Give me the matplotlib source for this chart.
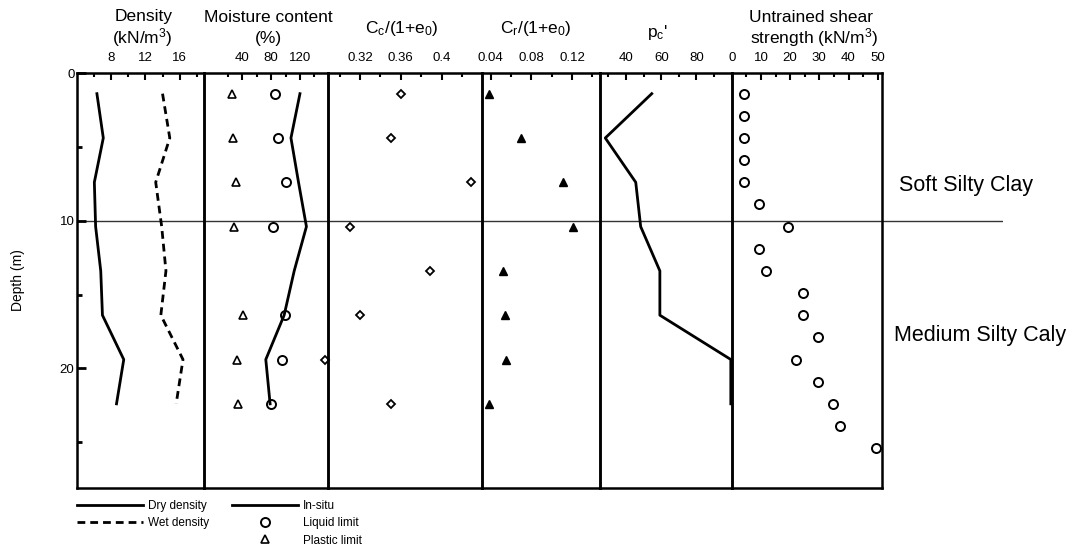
import matplotlib
matplotlib.use('Agg')
import matplotlib.pyplot as plt
import numpy as np
from matplotlib.lines import Line2D

plt.rcParams['font.family'] = ['Liberation Sans', 'DejaVu Sans']
plt.rcParams['mathtext.default'] = 'regular'

# Depths (m) of the sampled layers
depths = [1.4, 4.4, 7.4, 10.4, 13.4, 16.4, 19.4, 22.4]
limit_depths = [1.4, 4.4, 7.4, 10.4, 16.4, 19.4, 22.4]

dry_density = [6.3, 7.05, 6.0, 6.15, 6.75, 6.95, 9.45, 8.6]
wet_density = [14.0, 14.85, 13.2, 13.9, 14.4, 13.8, 16.4, 15.6]

insitu_moisture = [120, 107.5, 118, 129, 112, 98, 72.5, 78.5]
liquid_limit = [86, 89, 100.5, 82, 99.5, 94.5, 80]
plastic_limit = [26, 27.5, 31, 28.5, 41.5, 33, 34.5]

cc_ratio = [0.36, 0.35, 0.429, 0.31, 0.389, 0.32, 0.286, 0.35]
cr_ratio = [0.0386, 0.070, 0.111, 0.121, 0.0525, 0.054, 0.0555, 0.0383]
pc_values = [54.6, 28.2, 45.5, 48.3, 59.2, 59.2, 99.5, 99.5]

su_depths = [1.4, 2.9, 4.4, 5.9, 7.4, 8.9, 10.4, 11.9, 13.4, 14.9, 16.4,
             17.9, 19.4, 20.9, 22.4, 23.9, 25.4]
su_values = [4.1, 4.1, 4.1, 4.1, 4.1, 9.3, 19.3, 9.3, 11.8, 24.5, 24.5,
             29.5, 22.0, 29.5, 34.6, 37.1, 49.5]

layer_boundary = 10

W, H = 1076, 552


def fx(px):
    return px / W


def fy(py):
    return 1 - py / H


fig = plt.figure(figsize=(W / 100, H / 100), dpi=100)

edges = [77.3, 204.3, 328, 482, 600, 731.7, 881.5]
top, bottom = 73, 488
ymax = 28.1

# thin line for the layer boundary, reaching past the panels
bg = fig.add_axes([fx(edges[0]), fy(bottom), fx(1003 - edges[0]), (bottom - top) / H])
bg.set_ylim(ymax, 0)
bg.axis('off')
bg.axhline(layer_boundary, color='#333333', lw=1.0)

panels = [
    ((4, 18.9), [8, 12, 16], [6, 10, 14, 18], ['8', '12', '16']),
    ((-13, 159), [40, 80, 120], [20, 60, 100, 140], ['40', '80', '120']),
    ((0.2887, 0.4395), [0.32, 0.36, 0.40], [0.30, 0.34, 0.38, 0.42], ['0.32', '0.36', '0.4']),
    ((0.0314, 0.1475), [0.04, 0.08, 0.12], [0.06, 0.10, 0.14], ['0.04', '0.08', '0.12']),
    ((25.2, 100), [40, 60, 80], [30, 50, 70, 90], ['40', '60', '80']),
    ((0, 51.3), [0, 10, 20, 30, 40, 50], [5, 15, 25, 35, 45], ['0', '10', '20', '30', '40', '50']),
]

axes = []
for i, (xl, major, minor, labels) in enumerate(panels):
    ax = fig.add_axes([fx(edges[i]), fy(bottom), fx(edges[i + 1] - edges[i]), (bottom - top) / H])
    ax.set_facecolor('none')
    ax.set_xlim(*xl)
    ax.set_ylim(ymax, 0)
    ax.xaxis.tick_top()
    ax.set_xticks(major)
    ax.set_xticklabels(labels)
    ax.set_xticks(minor, minor=True)
    ax.tick_params(axis='x', which='major', direction='in', length=5, width=1.5, pad=6.5, labelsize=9.5)
    ax.tick_params(axis='x', which='minor', direction='in', length=3, width=1.5)
    for s in ax.spines.values():
        s.set_linewidth(1.8)
    if i == 0:
        ax.set_yticks([0, 10, 20])
        ax.set_yticks([5, 15, 25], minor=True)
        ax.tick_params(axis='y', which='major', direction='in', length=6.5, width=2, pad=2, labelsize=9.5)
        ax.tick_params(axis='y', which='minor', direction='in', length=3.5, width=2)
    else:
        ax.tick_params(axis='y', which='both', left=False, labelleft=False)
    axes.append(ax)

ax_den, ax_mc, ax_cc, ax_cr, ax_pc, ax_su = axes

dry_line, = ax_den.plot(dry_density, depths, color='black', lw=2.0)
wet_line, = ax_den.plot(wet_density, depths, color='black', lw=2.0, ls=(0, (2.8, 1.8)))

insitu_line, = ax_mc.plot(insitu_moisture, depths, color='black', lw=2.0)
ll_mark, = ax_mc.plot(liquid_limit, limit_depths, 'o', ms=6.5, mfc='none', mec='black', mew=1.4, ls='none')
pl_mark, = ax_mc.plot(plastic_limit, limit_depths, '^', ms=6, mfc='none', mec='black', mew=1.2, ls='none')

ax_cc.plot(cc_ratio, depths, 'D', ms=4.2, mfc='none', mec='black', mew=1.3, ls='none', clip_on=False)
ax_cr.plot(cr_ratio, depths, '^', ms=6, color='black', ls='none', clip_on=False)
ax_pc.plot(pc_values, depths, color='black', lw=2.0)
ax_su.plot(su_values, su_depths, 'o', ms=6.5, mfc='none', mec='black', mew=1.4, ls='none', clip_on=False)

# column headings
title_kw = dict(ha='center', va='center', fontsize=12.5)
fig.text(fx(143.5), fy(17), 'Density', **title_kw)
fig.text(fx(142), fy(38), '(kN/m$^3$)', **title_kw)
fig.text(fx(268), fy(17), 'Moisture content', **title_kw)
fig.text(fx(268), fy(38), '(%)', **title_kw)
fig.text(fx(402), fy(29), 'C$_c$/(1+e$_0$)', **title_kw)
fig.text(fx(536), fy(29), 'C$_r$/(1+e$_0$)', **title_kw)
fig.text(fx(657), fy(33), "p$_c$'", **title_kw)
fig.text(fx(811), fy(17), 'Untrained shear', **title_kw)
fig.text(fx(814), fy(38), 'strength (kN/m$^3$)', **title_kw)

fig.text(fx(18), fy(280), 'Depth (m)', rotation=90, ha='center', va='center', fontsize=10)

fig.text(fx(899), fy(185), 'Soft Silty Clay', ha='left', va='center', fontsize=15.5)
fig.text(fx(894), fy(335), 'Medium Silty Caly', ha='left', va='center', fontsize=15.5)

leg_kw = dict(frameon=False, fontsize=8.5, handlelength=5.6, handletextpad=0.4,
              labelspacing=0.45, borderpad=0, borderaxespad=0, loc='upper left')
fig.legend(handles=[dry_line, wet_line], labels=['Dry density', 'Wet density'],
           bbox_to_anchor=(fx(77.3), fy(500)), **leg_kw)
fig.legend(handles=[insitu_line, ll_mark, pl_mark], labels=['In-situ', 'Liquid limit', 'Plastic limit'],
           bbox_to_anchor=(fx(231.7), fy(500)), **leg_kw)

fig.savefig('out.png', dpi=100)
